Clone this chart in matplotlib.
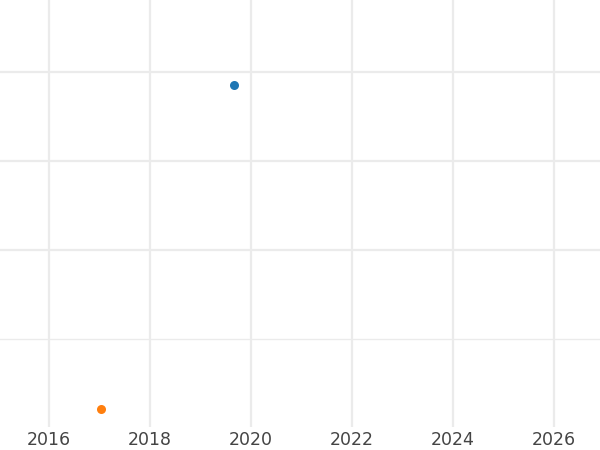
import matplotlib
matplotlib.use("Agg")
import matplotlib.pyplot as plt

# Data
series_names = ["A", "B"]
x_values = [2019.66, 2017.03]
y_values = [2.85, -0.79]
colors = ["#1f77b4", "#ff7f0e"]
x_ticks = [2016, 2018, 2020, 2022, 2024, 2026]
y_ticks = [1, 2, 3]

fig = plt.figure(figsize=(6, 4.5), dpi=100)
ax = fig.add_axes([0, 1 - 427 / 450, 1, 427 / 450])

for name, x, y, c in zip(series_names, x_values, y_values, colors):
    ax.plot([x], [y], "o", color=c, markersize=6.5, markeredgewidth=0, label=name, zorder=3)

ax.set_xlim(2015.03, 2026.91)
ax.set_ylim(-0.99, 3.81)
ax.set_xticks(x_ticks)
ax.set_yticks(y_ticks)
ax.set_yticklabels([])
ax.grid(True, color="#ebebeb", linewidth=1.6)
ax.axhline(0, color="#ebebeb", linewidth=1.0, zorder=0)
ax.tick_params(axis="both", length=0, labelsize=12.5, labelcolor="#444444", pad=3)
for s in ax.spines.values():
    s.set_visible(False)

fig.savefig("out.png", dpi=100)
